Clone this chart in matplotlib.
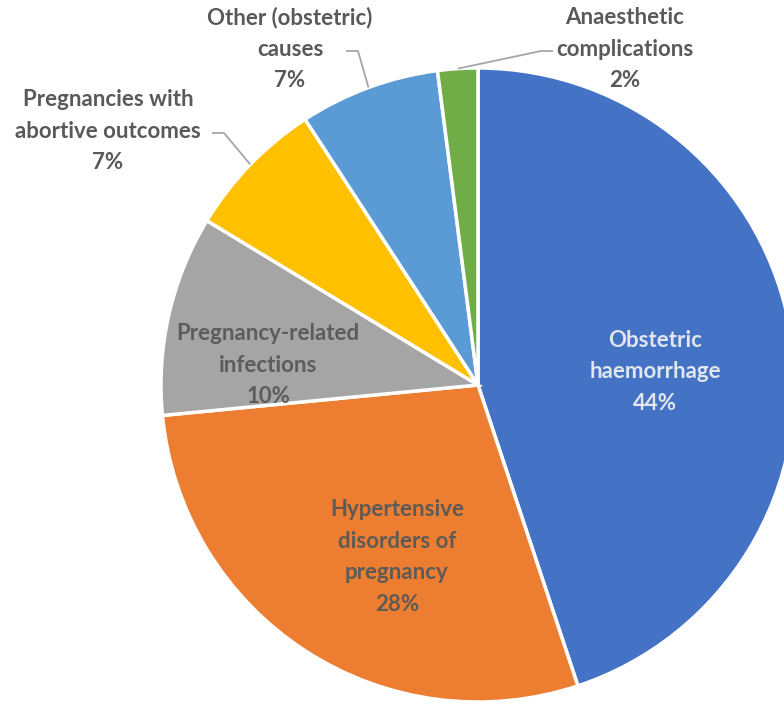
import numpy as np
import matplotlib
matplotlib.use("Agg")
import matplotlib.pyplot as plt

categories = ["Obstetric\nhaemorrhage", "Hypertensive\ndisorders of\npregnancy",
              "Pregnancy-related\ninfections", "Pregnancies with\nabortive outcomes",
              "Other (obstetric)\ncauses", "Anaesthetic\ncomplications"]
values = [44, 28, 10, 7, 7, 2]
colors = ["#4472C4", "#ED7D31", "#A5A5A5", "#FFC000", "#5B9BD5", "#70AD47"]
text_colors = ["#E2E6EF", "#5E5A55", "#5C5C5C", "#595959", "#595959", "#595959"]

W, H = 784, 704
fig = plt.figure(figsize=(W / 100, H / 100), dpi=100)
ax = fig.add_axes([0, 0, 1, 1])

cx, cy, R = 478, H - 385, 317
wedges, _ = ax.pie(values, colors=colors, startangle=90, counterclock=False,
                   center=(cx, cy), radius=R,
                   wedgeprops=dict(edgecolor="white", linewidth=2.5))
ax.set_xlim(0, W)
ax.set_ylim(0, H)
ax.set_aspect("equal")
ax.axis("off")

# label positions (image pixel coords, block centres)
label_pos = [(655, 372), (397, 557), (268, 365), (108, 131), (290, 49), (625, 49)]
fs = 16
for i, (lab, v) in enumerate(zip(categories, values)):
    x, y = label_pos[i]
    ax.text(x, H - y, f"{lab}\n{v}%", ha="center", va="center", fontsize=fs,
            fontweight="bold", family=["Lato", "DejaVu Sans"], color=text_colors[i],
            linespacing=1.62)

# leader lines for outside labels: (text-side start, elbow) then to wedge rim
leaders = {3: [(212, 133), (224, 133)], 4: [(346, 51), (358, 51)], 5: [(553, 51), (541, 51)]}
for i, pts in leaders.items():
    w = wedges[i]
    mid = np.deg2rad((w.theta1 + w.theta2) / 2)
    ax_ = cx + R * np.cos(mid)
    ay_ = cy + R * np.sin(mid)
    xs = [p[0] for p in pts] + [ax_]
    ys = [H - p[1] for p in pts] + [ay_]
    ax.plot(xs, ys, color="#A6A6A6", lw=1.3, solid_capstyle="butt")

fig.savefig("out.png", dpi=100)
